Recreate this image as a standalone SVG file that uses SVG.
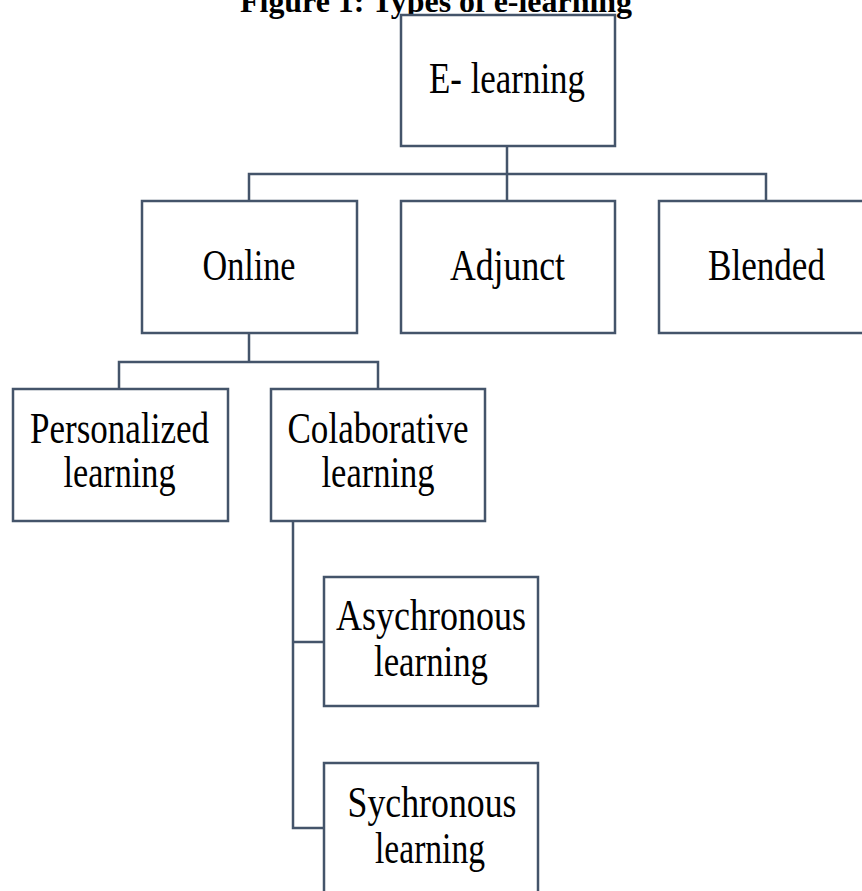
<svg xmlns="http://www.w3.org/2000/svg" width="862" height="891" viewBox="0 0 862 891">
<style>
.box{fill:#fff;stroke:#44546A;stroke-width:2.5}
.con{fill:none;stroke:#44546A;stroke-width:2.5}
.t{font-family:"Liberation Serif","Times New Roman",serif;font-size:45px;fill:#000;text-anchor:middle}
.title{font-family:"Liberation Serif","Times New Roman",serif;font-size:32px;font-weight:bold;fill:#000;text-anchor:middle}
</style>
<rect width="862" height="891" fill="#fff"/>
<text class="title" x="436" y="12" textLength="392" lengthAdjust="spacingAndGlyphs">Figure 1: Types of e-learning</text>
<g id="connectors">
<path class="con" d="M507,146 V201 M249,201 V174 H766 V201"/>
<path class="con" d="M249,333 V362 M119,389 V362 H378 V389"/>
<path class="con" d="M293,521 V828 H324 M293,642 H324"/>
</g>
<g id="elearning">
<rect class="box" x="401" y="15" width="214" height="131"/>
<text class="t" x="507" y="93" textLength="156" lengthAdjust="spacingAndGlyphs">E- learning</text>
</g>
<g id="online">
<rect class="box" x="142" y="201" width="215" height="132"/>
<text class="t" x="249" y="279.5" textLength="93" lengthAdjust="spacingAndGlyphs">Online</text>
</g>
<g id="adjunct">
<rect class="box" x="401" y="201" width="214" height="132"/>
<text class="t" x="507.5" y="279.5" textLength="115" lengthAdjust="spacingAndGlyphs">Adjunct</text>
</g>
<g id="blended">
<rect class="box" x="659" y="201" width="216" height="132"/>
<text class="t" x="766.5" y="279.5" textLength="117" lengthAdjust="spacingAndGlyphs">Blended</text>
</g>
<g id="personalized">
<rect class="box" x="13" y="389" width="215" height="132"/>
<text class="t" x="119.5" y="442.5" textLength="179" lengthAdjust="spacingAndGlyphs">Personalized</text>
<text class="t" x="119.5" y="486.5" textLength="112" lengthAdjust="spacingAndGlyphs">learning</text>
</g>
<g id="colaborative">
<rect class="box" x="271" y="389" width="214" height="132"/>
<text class="t" x="378" y="442.5" textLength="181" lengthAdjust="spacingAndGlyphs">Colaborative</text>
<text class="t" x="378" y="486.5" textLength="113" lengthAdjust="spacingAndGlyphs">learning</text>
</g>
<g id="asychronous">
<rect class="box" x="324" y="577" width="214" height="129"/>
<text class="t" x="431" y="630" textLength="190" lengthAdjust="spacingAndGlyphs">Asychronous</text>
<text class="t" x="431" y="676" textLength="114" lengthAdjust="spacingAndGlyphs">learning</text>
</g>
<g id="sychronous">
<rect class="box" x="324" y="763" width="214" height="140"/>
<text class="t" x="432" y="816.5" textLength="169" lengthAdjust="spacingAndGlyphs">Sychronous</text>
<text class="t" x="430" y="862.5" textLength="110" lengthAdjust="spacingAndGlyphs">learning</text>
</g>
</svg>
